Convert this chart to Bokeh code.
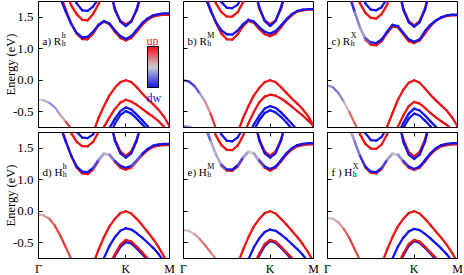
from bokeh.plotting import figure
from bokeh.layouts import gridplot
from bokeh.models import (FixedTicker, LinearAxis, Label, ColorBar,
                          LinearColorMapper, ColumnDataSource, Range1d)
from bokeh.embed import file_html
from bokeh.resources import INLINE

_ = None
UP, DW = 1.0, -1.0

# ---------------- data ----------------
K_PATH = [0.0, 0.0625, 0.125, 0.1875, 0.25, 0.3125, 0.375, 0.4375, 0.5,
          0.5625, 0.625, 0.6875, 0.75, 0.8125, 0.875, 0.9375, 1.0,
          1.0625, 1.125, 1.1875, 1.25, 1.3125, 1.375, 1.4375, 1.5]
K_TICKS = [0.0, 1.0, 1.5]
K_LABELS = ["Γ", "K", "M"]
E_TICKS = [-0.5, 0.0, 1.0, 1.5]
E_LABELS = ["-0.5", "0.0", "1.0", "1.5"]

# panel a) R^h_h
A_GAM = [-0.31, -0.32, -0.36, -0.43, -0.55, -0.66, -0.77, -0.90, _, _, _, _, _, _, _, _, _, _, _, _, _, _, _, _, _]
A_GAM_S = [0.1, 0.0, -0.3, -0.4, -0.1, 0.6, 0.9, 0.9]
A_V1 = [_, _, _, _, _, _, _, _, _, -1.0, -0.83, -0.60, -0.41, -0.24, -0.12, -0.03, 0.0, -0.03, -0.11, -0.21, -0.30, -0.38, -0.47, -0.58, -0.73]
A_V2 = [_, _, _, _, _, _, _, _, _, _, _, -0.92, -0.74, -0.59, -0.455, -0.355, -0.31, -0.34, -0.39, -0.455, -0.52, -0.58, -0.65, -0.74, -0.85]
A_V3 = [_, _, _, _, _, _, _, _, _, _, _, _, -0.95, -0.76, -0.61, -0.49, -0.43, -0.465, -0.545, -0.635, -0.73, -0.85, _, _, _]
A_V4 = [_, _, _, _, _, _, _, _, _, _, _, _, _, -0.88, -0.69, -0.55, -0.49, -0.53, -0.61, -0.70, -0.80, -0.92, _, _, _]
A_C1B = [_, _, _, 1.95, 1.80, 1.585, 1.39, 1.25, 1.18, 1.19, 1.27, 1.38, 1.44, 1.40, 1.29, 1.20, 1.156, 1.20, 1.30, 1.41, 1.48, 1.53, 1.55, 1.56, 1.56]
A_C1R = [_, _, _, 1.98, 1.85, 1.62, 1.40, 1.24, 1.155, 1.15, 1.24, 1.37, 1.43, 1.39, 1.27, 1.17, 1.13, 1.17, 1.27, 1.38, 1.46, 1.51, 1.53, 1.54, 1.54]
A_C2B = [_, _, _, _, _, _, 1.90, 1.72, 1.61, 1.60, 1.67, 1.80, 1.95, 2.00, 1.63, 1.43, 1.36, 1.43, 1.63, 1.95, _, _, _, _, _]
A_C2R = [_, _, _, _, _, 1.90, 1.69, 1.55, 1.46, 1.45, 1.55, 1.71, 1.90, 2.00, 1.61, 1.44, 1.39, 1.44, 1.61, 1.90, _, _, _, _, _]

# panel b) R^M_h
B_GAM = [0.0, -0.02, -0.09, -0.21, -0.34, -0.53, -0.77, -0.95, _, _, _, _, _, _, _, _, _, _, _, _, _, _, _, _, _]
B_GAM_S = [-0.7, -0.8, -0.8, -0.5, 0.0, 0.7, 0.9, 0.9]
B_GAM2 = [-0.73, -0.74, -0.77, -0.82, _, _, _, _, _, _, _, _, _, _, _, _, _, _, _, _, _, _, _, _, _]
B_V1 = [_, _, _, _, _, _, _, _, _, -1.0, -0.83, -0.60, -0.41, -0.24, -0.12, -0.03, 0.0, -0.03, -0.11, -0.20, -0.29, -0.37, -0.46, -0.57, -0.72]
B_V2 = [_, _, _, _, _, _, _, _, _, _, _, -0.88, -0.68, -0.50, -0.35, -0.26, -0.23, -0.245, -0.29, -0.35, -0.42, -0.49, -0.56, -0.64, -0.73]
B_V3 = [_, _, _, _, _, _, _, _, _, _, _, _, -0.88, -0.70, -0.56, -0.45, -0.41, -0.44, -0.51, -0.60, -0.69, -0.79, -0.90, _, _]
B_V4 = [_, _, _, _, _, _, _, _, _, _, _, _, _, -0.80, -0.63, -0.52, -0.475, -0.51, -0.58, -0.67, -0.77, -0.88, _, _, _]
B_C1B = [_, _, _, 1.95, 1.82, 1.60, 1.42, 1.29, 1.23, 1.225, 1.29, 1.39, 1.46, 1.43, 1.34, 1.27, 1.24, 1.28, 1.37, 1.47, 1.55, 1.60, 1.62, 1.63, 1.63]
B_C1R = [_, _, _, 1.98, 1.86, 1.63, 1.41, 1.24, 1.15, 1.145, 1.23, 1.36, 1.44, 1.41, 1.31, 1.23, 1.20, 1.24, 1.34, 1.45, 1.53, 1.59, 1.61, 1.62, 1.62]
B_C2B = [_, _, _, _, _, _, 1.90, 1.74, 1.65, 1.645, 1.70, 1.85, 2.00, 2.00, 1.66, 1.44, 1.36, 1.44, 1.66, 1.95, _, _, _, _, _]
B_C2R = [_, _, _, _, _, 1.90, 1.72, 1.58, 1.51, 1.51, 1.58, 1.74, 1.92, 2.00, 1.63, 1.45, 1.39, 1.45, 1.63, 1.92, _, _, _, _, _]

# panel c) R^X_h
C_GAM = [-0.08, -0.11, -0.20, -0.34, -0.50, -0.68, -0.85, _, _, _, _, _, _, _, _, _, _, _, _, _, _, _, _, _, _]
C_GAM_S = [-0.2, -0.4, -0.5, -0.3, 0.5, 0.6, 0.6]
C_V1 = [_, _, _, _, _, _, _, _, _, _, -0.92, -0.74, -0.52, -0.31, -0.15, -0.04, 0.0, -0.04, -0.13, -0.23, -0.32, -0.40, -0.48, -0.59, -0.73]
C_V2 = [_, _, _, _, _, _, _, _, _, _, _, _, -0.95, -0.74, -0.56, -0.41, -0.344, -0.37, -0.44, -0.52, -0.59, -0.65, -0.71, -0.78, -0.90]
C_V3 = [_, _, _, _, _, _, _, _, _, _, _, _, _, -0.86, -0.68, -0.53, -0.45, -0.48, -0.56, -0.65, -0.74, -0.84, _, _, _]
C_V4 = [_, _, _, _, _, _, _, _, _, _, _, _, _, -0.95, -0.76, -0.61, -0.53, -0.56, -0.64, -0.73, -0.83, _, _, _, _]
C_C1B = [_, _, _, 1.98, 1.85, 1.58, 1.34, 1.17, 1.10, 1.09, 1.15, 1.27, 1.38, 1.36, 1.25, 1.15, 1.11, 1.15, 1.28, 1.38, 1.45, 1.50, 1.53, 1.54, 1.54]
C_C1R = [_, _, _, 2.00, 1.88, 1.60, 1.33, 1.14, 1.06, 1.055, 1.12, 1.25, 1.35, 1.34, 1.23, 1.12, 1.09, 1.13, 1.24, 1.36, 1.44, 1.49, 1.52, 1.53, 1.53]
C_C1B_S = [-1, -1, -1, -1, -1, -0.7, -0.1, -0.4, -1, -1]
C_C1R_S = [1, 1, 1, 1, 1, 0.7, 0.1, 0.4, 1, 1]
C_C2B = [_, _, _, _, _, _, 1.90, 1.72, 1.62, 1.61, 1.66, 1.80, 2.00, 2.00, 1.62, 1.42, 1.35, 1.42, 1.62, 1.95, _, _, _, _, _]
C_C2R = [_, _, _, _, _, 1.92, 1.72, 1.57, 1.49, 1.48, 1.55, 1.70, 1.90, 2.00, 1.64, 1.44, 1.37, 1.44, 1.64, 1.95, _, _, _, _, _]

# panel d) H^h_h
D_GAM = [-0.05, -0.07, -0.12, -0.23, -0.39, -0.57, -0.76, -0.95, _, _, _, _, _, _, _, _, _, _, _, _, _, _, _, _, _]
D_GAM_S = [0.1, 0.2, 0.4, 0.7, 0.8, 0.8, 0.6, 0.6]
D_V1 = [_, _, _, _, _, _, _, _, _, -1.0, -0.84, -0.61, -0.41, -0.24, -0.12, -0.03, 0.0, -0.035, -0.12, -0.22, -0.33, -0.44, -0.57, -0.72, -0.88]
D_V2 = [_, _, _, _, _, _, _, _, _, _, _, -0.95, -0.74, -0.55, -0.41, -0.31, -0.27, -0.29, -0.35, -0.42, -0.50, -0.58, -0.68, -0.80, -0.92]
D_V3 = [_, _, _, _, _, _, _, _, _, _, _, _, _, -0.86, -0.68, -0.53, -0.455, -0.48, -0.56, -0.65, -0.75, -0.86, _, _, _]
D_V4 = [_, _, _, _, _, _, _, _, _, _, _, _, _, -0.90, -0.71, -0.565, -0.49, -0.51, -0.59, -0.68, -0.78, -0.90, _, _, _]
D_C1B = [_, _, _, 1.98, 1.84, 1.60, 1.38, 1.21, 1.13, 1.12, 1.19, 1.32, 1.42, 1.40, 1.30, 1.22, 1.19, 1.22, 1.31, 1.41, 1.49, 1.54, 1.56, 1.57, 1.57]
D_C1R = [_, _, _, 2.00, 1.87, 1.62, 1.38, 1.19, 1.10, 1.09, 1.16, 1.30, 1.41, 1.39, 1.28, 1.19, 1.16, 1.19, 1.29, 1.39, 1.47, 1.52, 1.54, 1.55, 1.55]
D_C1B_S = [-1, -1, -1, -1, -1, -1, -1, -1, -1, -1, -1, -0.5, 0.0, -0.2, -0.7, -1, -1, -1, -0.4, -1]
D_C1R_S = [1, 1, 1, 1, 1, 1, 1, 1, 1, 1, 1, 0.6, 0.1, 0.2, 0.7, 1, 1, 1, 0.5, 1]
D_C2B = [_, _, _, _, _, _, 1.92, 1.76, 1.67, 1.66, 1.72, 1.86, 2.00, 2.00, 1.62, 1.42, 1.35, 1.42, 1.62, 1.95, _, _, _, _, _]
D_C2R = [_, _, _, _, _, 1.92, 1.74, 1.60, 1.535, 1.53, 1.60, 1.76, 1.95, 2.00, 1.64, 1.45, 1.38, 1.45, 1.64, 1.95, _, _, _, _, _]

# panel e) H^M_h
E_GAM = [-0.30, -0.31, -0.36, -0.44, -0.545, -0.65, -0.76, -0.90, _, _, _, _, _, _, _, _, _, _, _, _, _, _, _, _, _]
E_GAM_S = [0.05, 0.1, 0.1, 0.4, 0.5, 0.5, 0.3, 0.3]
E_V1 = [_, _, _, _, _, _, _, _, _, -1.0, -0.84, -0.61, -0.41, -0.24, -0.12, -0.03, 0.0, -0.035, -0.12, -0.21, -0.31, -0.41, -0.52, -0.65, -0.80]
E_V2 = [_, _, _, _, _, _, _, _, _, _, _, -0.95, -0.76, -0.57, -0.43, -0.33, -0.29, -0.31, -0.37, -0.44, -0.52, -0.60, -0.69, -0.80, -0.92]
E_V3 = [_, _, _, _, _, _, _, _, _, _, _, _, _, -0.85, -0.67, -0.52, -0.455, -0.48, -0.56, -0.65, -0.74, -0.85, _, _, _]
E_V4 = [_, _, _, _, _, _, _, _, _, _, _, _, _, -0.88, -0.70, -0.55, -0.476, -0.50, -0.58, -0.67, -0.77, -0.88, _, _, _]
E_C1B = [_, _, _, 1.98, 1.84, 1.61, 1.40, 1.24, 1.165, 1.16, 1.23, 1.36, 1.45, 1.42, 1.31, 1.21, 1.17, 1.21, 1.31, 1.42, 1.50, 1.55, 1.57, 1.58, 1.58]
E_C1R = [_, _, _, 2.00, 1.87, 1.63, 1.40, 1.22, 1.145, 1.14, 1.21, 1.34, 1.44, 1.41, 1.29, 1.19, 1.145, 1.19, 1.29, 1.40, 1.48, 1.53, 1.55, 1.56, 1.56]
E_C1B_S = [-1, -1, -1, -1, -0.8, -0.3, 0.0, -0.4, -1, -1, -1, -0.5, 0.0, 0.0, -0.5, -1]
E_C1R_S = [1, 1, 1, 1, 0.8, 0.4, 0.1, 0.5, 1, 1, 1, 0.5, 0.1, 0.1, 0.5, 1]
E_C2B = [_, _, _, _, _, _, 1.92, 1.72, 1.62, 1.61, 1.67, 1.82, 2.00, 2.00, 1.62, 1.42, 1.35, 1.42, 1.62, 1.95, _, _, _, _, _]
E_C2R = [_, _, _, _, _, 1.92, 1.70, 1.55, 1.475, 1.47, 1.54, 1.70, 1.90, 2.00, 1.64, 1.45, 1.38, 1.45, 1.64, 1.95, _, _, _, _, _]

# panel f) H^X_h
F_GAM = [-0.11, -0.12, -0.175, -0.28, -0.42, -0.60, -0.78, -0.95, _, _, _, _, _, _, _, _, _, _, _, _, _, _, _, _, _]
F_GAM_S = [0.0, 0.1, 0.2, 0.4, 0.7, 0.8, 0.6, 0.6]
F_V1 = [_, _, _, _, _, _, _, _, _, -1.0, -0.84, -0.61, -0.41, -0.24, -0.12, -0.03, 0.0, -0.035, -0.12, -0.22, -0.32, -0.42, -0.53, -0.66, -0.82]
F_V2 = [_, _, _, _, _, _, _, _, _, _, _, -0.95, -0.75, -0.56, -0.42, -0.32, -0.28, -0.30, -0.36, -0.43, -0.51, -0.59, -0.68, -0.79, -0.92]
F_V3 = [_, _, _, _, _, _, _, _, _, _, _, _, _, -0.85, -0.67, -0.52, -0.455, -0.48, -0.56, -0.65, -0.74, -0.85, _, _, _]
F_V4 = [_, _, _, _, _, _, _, _, _, _, _, _, _, -0.88, -0.70, -0.55, -0.476, -0.50, -0.58, -0.67, -0.77, -0.88, _, _, _]
F_C1B = [_, _, _, 1.98, 1.84, 1.60, 1.38, 1.21, 1.13, 1.12, 1.19, 1.32, 1.42, 1.40, 1.30, 1.21, 1.17, 1.21, 1.31, 1.42, 1.50, 1.55, 1.57, 1.58, 1.58]
F_C1R = [_, _, _, 2.00, 1.87, 1.62, 1.38, 1.19, 1.11, 1.10, 1.17, 1.31, 1.41, 1.39, 1.28, 1.19, 1.155, 1.19, 1.29, 1.40, 1.48, 1.53, 1.55, 1.56, 1.56]
F_C1B_S = [-1, -1, -1, -0.3, -0.2, -0.3, -0.6, -1, -1, -1, -1, -0.5, 0.0, -0.1, -0.6, -1]
F_C1R_S = [1, 1, 1, 0.3, 0.2, 0.3, 0.6, 1, 1, 1, 1, 0.5, 0.1, 0.1, 0.6, 1]
F_C2B = [_, _, _, _, _, _, 1.92, 1.74, 1.63, 1.62, 1.68, 1.83, 2.00, 2.00, 1.60, 1.40, 1.33, 1.40, 1.60, 1.95, _, _, _, _, _]
F_C2R = [_, _, _, _, _, 1.92, 1.72, 1.57, 1.495, 1.49, 1.56, 1.72, 1.92, 2.00, 1.64, 1.44, 1.37, 1.44, 1.64, 1.95, _, _, _, _, _]

PANEL_TAGS = ["a)", "b)", "c)", "d)", "e)", "f )"]
PANEL_BASE = ["R", "R", "R", "H", "H", "H"]
PANEL_SUP = ["h", "M", "X", "h", "M", "X"]
PANEL_SUB = ["h", "h", "h", "h", "h", "h"]

PANEL_BANDS = [
    [(A_GAM, A_GAM_S), (A_V4, DW), (A_V3, DW), (A_V2, UP), (A_V1, UP),
     (A_C1R, UP), (A_C1B, DW), (A_C2R, UP), (A_C2B, DW)],
    [(B_GAM2, -0.4), (B_GAM, B_GAM_S), (B_V4, DW), (B_V3, DW), (B_V2, UP), (B_V1, UP),
     (B_C1R, UP), (B_C1B, DW), (B_C2R, UP), (B_C2B, DW)],
    [(C_GAM, C_GAM_S), (C_V4, DW), (C_V3, DW), (C_V2, UP), (C_V1, UP),
     (C_C1R, C_C1R_S), (C_C1B, C_C1B_S), (C_C2R, UP), (C_C2B, DW)],
    [(D_GAM, D_GAM_S), (D_V4, DW), (D_V3, UP), (D_V2, DW), (D_V1, UP),
     (D_C1R, D_C1R_S), (D_C1B, D_C1B_S), (D_C2R, UP), (D_C2B, DW)],
    [(E_GAM, E_GAM_S), (E_V4, DW), (E_V3, UP), (E_V2, DW), (E_V1, UP),
     (E_C1R, E_C1R_S), (E_C1B, E_C1B_S), (E_C2R, UP), (E_C2B, DW)],
    [(F_GAM, F_GAM_S), (F_V4, DW), (F_V3, UP), (F_V2, DW), (F_V1, UP),
     (F_C1R, F_C1R_S), (F_C1B, F_C1B_S), (F_C2R, UP), (F_C2B, DW)],
]

# ---------------- styling / layout ----------------
FONT = "Liberation Serif"
FRAME_W = [131, 130, 130]
BORDER_L = [38, 7, 7]
BORDER_R = [7, 7, 7]
FRAME_H = 126
BORDER_T = [1, 3]
BORDER_B = [2, 17]
RED = (235, 20, 20)
BLUE = (20, 20, 235)
MID = (205, 205, 210)
ADVANCE = {"a": 0.444, "b": 0.5, "c": 0.444, "d": 0.5, "e": 0.444, "f": 0.333,
           ")": 0.333, " ": 0.25, "R": 0.667, "H": 0.722}


def to_plot(e):
    # broken energy axis: the empty gap between 0.25 and 0.75 eV is removed
    if e is None:
        return None
    return e - 0.5 if e > 0.5 else e


def spin_rgb(s):
    s = max(-1.0, min(1.0, s))
    end = RED if s >= 0 else BLUE
    t = abs(s)
    return "#%02x%02x%02x" % tuple(int(round(MID[k] + (end[k] - MID[k]) * t)) for k in range(3))


def spin_at(spin, i):
    if isinstance(spin, list):
        return spin[i] if i < len(spin) else spin[-1]
    return spin


PALETTE = [spin_rgb(-1 + 2 * i / 255.0) for i in range(256)]


def draw_band(p, ys, spin):
    x0, y0, x1, y1, cols = [], [], [], [], []
    for i in range(len(K_PATH) - 1):
        a, b = ys[i], ys[i + 1]
        if a is None or b is None:
            continue
        s = 0.5 * (spin_at(spin, i) + spin_at(spin, i + 1))
        x0.append(K_PATH[i]); y0.append(to_plot(a))
        x1.append(K_PATH[i + 1]); y1.append(to_plot(b))
        cols.append(spin_rgb(s))
    src = ColumnDataSource(dict(x0=x0, y0=y0, x1=x1, y1=y1, c=cols))
    p.segment("x0", "y0", "x1", "y1", source=src, line_color="c",
              line_width=2.3, line_cap="round")


def make_axis(ticks, labels, show, size, standoff):
    ax = LinearAxis(
        ticker=FixedTicker(ticks=ticks),
        major_tick_in=4, major_tick_out=0,
        minor_tick_line_color=None,
        axis_line_color="black", major_tick_line_color="black")
    if show:
        ax.major_label_overrides = {t: l for t, l in zip(ticks, labels)}
        ax.major_label_text_font = FONT
        ax.major_label_text_color = "black"
        ax.major_label_text_font_size = size
        ax.major_label_standoff = standoff
    else:
        ax.major_label_text_font_size = "0px"
        ax.major_label_text_color = None
        ax.major_label_standoff = 0
    return ax


def text_width(txt, size):
    return sum(ADVANCE.get(ch, 0.5) for ch in txt) * size


y_tick_pos = [to_plot(e) for e in E_TICKS]
figs = []
for idx in range(6):
    row, col = divmod(idx, 3)
    p = figure(frame_width=FRAME_W[col], frame_height=FRAME_H,
               min_border_left=BORDER_L[col], min_border_right=BORDER_R[col],
               min_border_top=BORDER_T[row], min_border_bottom=BORDER_B[row],
               x_range=Range1d(0, 1.5), y_range=Range1d(-0.75, 1.25),
               x_axis_type=None, y_axis_type=None, title=None,
               output_backend="svg", toolbar_location=None)
    p.background_fill_color = "white"
    p.border_fill_color = "white"
    p.outline_line_color = "black"
    p.outline_line_width = 1

    p.add_layout(make_axis(K_TICKS, K_LABELS, row == 1, "12px", 3), "below")
    if row == 1:
        p.add_layout(make_axis(K_TICKS, K_LABELS, False, "12px", 0), "above")
    yax = make_axis(y_tick_pos, E_LABELS, col == 0, "13px", 5)
    if col == 0:
        yax.axis_label = "Energy (eV)"
        yax.axis_label_text_font = FONT
        yax.axis_label_text_font_size = "12.5px"
        yax.axis_label_text_font_style = "normal"
        yax.axis_label_text_color = "black"
        yax.axis_label_standoff = -8
    p.add_layout(yax, "left")

    for ys, spin in PANEL_BANDS[idx]:
        draw_band(p, ys, spin)

    # panel label with super/subscript
    base_txt = PANEL_TAGS[idx] + " " + PANEL_BASE[idx]
    base_y = FRAME_H - 39
    p.add_layout(Label(x=4, y=base_y, x_units="screen", y_units="screen",
                       text=base_txt, text_font=FONT, text_font_size="11px",
                       text_color="black", text_baseline="alphabetic", text_align="left"))
    sx = 4 + text_width(base_txt, 11) + 0.5
    p.add_layout(Label(x=sx, y=base_y + 5, x_units="screen", y_units="screen",
                       text=PANEL_SUP[idx], text_font=FONT, text_font_size="8px",
                       text_color="black", text_baseline="alphabetic", text_align="left"))
    p.add_layout(Label(x=sx, y=base_y - 2.5, x_units="screen", y_units="screen",
                       text=PANEL_SUB[idx], text_font=FONT, text_font_size="8px",
                       text_color="black", text_baseline="alphabetic", text_align="left"))

    if idx == 0:
        mapper = LinearColorMapper(palette=PALETTE, low=-1, high=1)
        cb = ColorBar(color_mapper=mapper, location=(109, 40), width=11, height=41,
                      padding=0, margin=0, title=None,
                      major_label_text_font_size="0px", major_label_text_color=None,
                      major_tick_line_color=None,
                      minor_tick_line_color=None, label_standoff=0,
                      bar_line_color="black", bar_line_width=1,
                      background_fill_alpha=0, border_line_color=None)
        p.add_layout(cb, "center")
        p.add_layout(Label(x=108, y=86.5, x_units="screen", y_units="screen",
                           text="up", text_font=FONT, text_font_size="12px",
                           text_color=spin_rgb(UP), text_align="left",
                           text_baseline="alphabetic"))
        p.add_layout(Label(x=108, y=30, x_units="screen", y_units="screen",
                           text="dw", text_font=FONT, text_font_size="12px",
                           text_color=spin_rgb(DW), text_align="left",
                           text_baseline="alphabetic"))
    figs.append(p)

grid = gridplot([figs[0:3], figs[3:6]], toolbar_location=None)

with open("out.html", "w") as f:
    f.write(file_html(grid, INLINE))
